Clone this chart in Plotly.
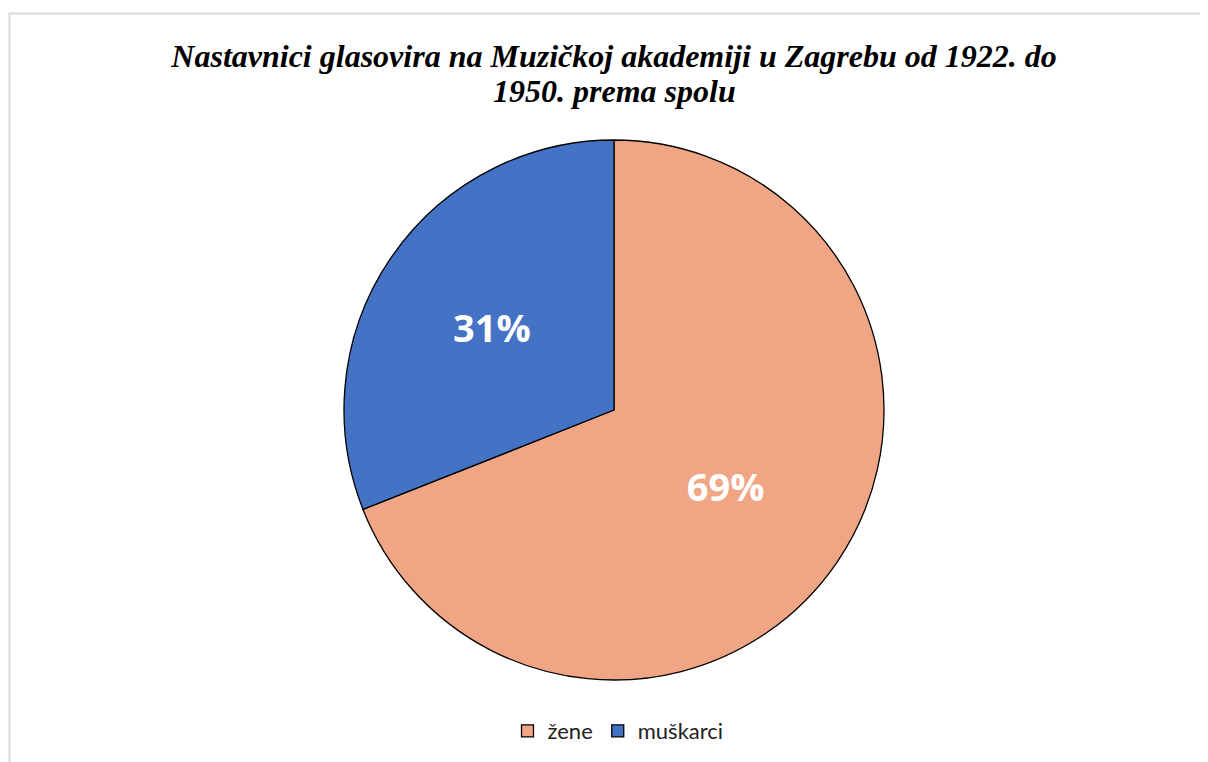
import plotly.graph_objects as go

categories = ["žene", "muškarci"]
values = [69, 31]
colors = ["#F0A585", "#4472C4"]
title_line1 = "Nastavnici glasovira na Muzičkoj akademiji u Zagrebu od 1922. do"
title_line2 = "1950. prema spolu"

W, H = 1208, 762
OFF = 8  # page body margin
cx, cy, r = 614 - OFF, 410 - OFF, 270

title_font = dict(family="Liberation Serif", size=32, color="black", weight="bold", style="italic")

fig = go.Figure(go.Pie(
    labels=categories,
    values=values,
    sort=False,
    direction="clockwise",
    rotation=0,
    marker=dict(colors=colors, line=dict(color="#000000", width=1.3)),
    textinfo="percent",
    texttemplate="%{percent:.0%}",
    textposition="inside",
    insidetextorientation="horizontal",
    textfont=dict(family="Open Sans", size=38, color="white", weight="bold"),
    domain=dict(x=[(cx - r) / W, (cx + r) / W], y=[1 - (cy + r) / H, 1 - (cy - r) / H]),
    hoverinfo="label+percent",
))

fig.update_layout(
    width=W, height=H,
    margin=dict(l=0, r=0, t=0, b=0),
    paper_bgcolor="white",
    plot_bgcolor="white",
    title=dict(
        text=title_line1,
        x=(614 - OFF) / W, xanchor="center",
        y=1 - (56 - OFF) / H, yanchor="middle",
        font=title_font,
    ),
    annotations=[dict(
        text=title_line2, xref="paper", yref="paper",
        x=(614 - OFF) / W, xanchor="center",
        y=1 - (91 - OFF) / H, yanchor="middle",
        showarrow=False, font=title_font,
    )],
    legend=dict(
        orientation="h",
        x=(618 - OFF) / W, xanchor="center",
        y=1 - (731 - OFF) / H, yanchor="middle",
        font=dict(family="Lato", size=22, color="#222222"),
        itemwidth=30,
    ),
    shapes=[dict(
        type="rect", xref="paper", yref="paper",
        x0=(9.5 - OFF) / W, x1=1.02, y0=-0.02, y1=1 - (13.5 - OFF) / H,
        line=dict(color="#D9D9D9", width=2), fillcolor="rgba(0,0,0,0)",
    )],
)

fig.write_html("out.html")
